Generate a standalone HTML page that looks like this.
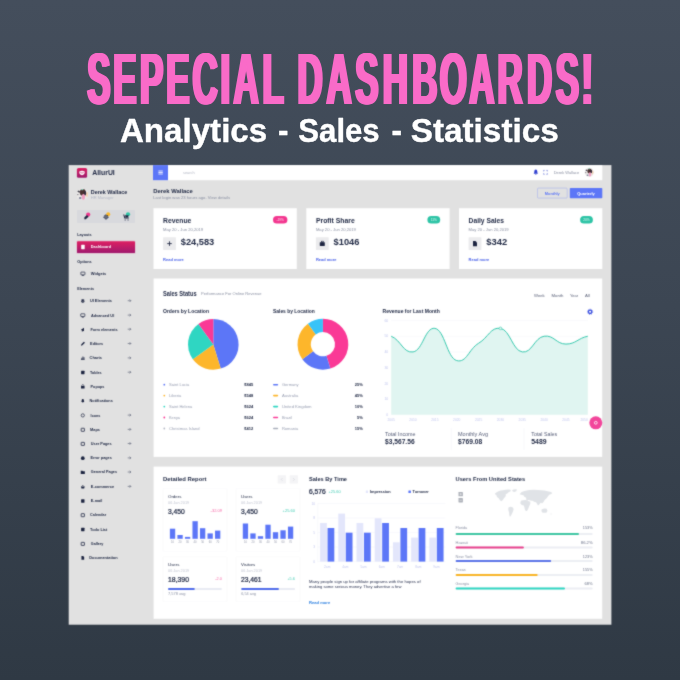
<!DOCTYPE html>
<html lang="en">
<head>
<meta charset="utf-8">
<title>Sepecial Dashboards</title>
<style>
html,body{margin:0;padding:0;}
body{width:680px;height:680px;overflow:hidden;background:#36414d;font-family:"Liberation Sans",sans-serif;}
#stage{position:relative;width:680px;height:680px;overflow:hidden;background:linear-gradient(180deg,#444e5c 0%,#3c4653 45%,#2f3944 100%);}
#dash{position:absolute;left:0;top:0;width:680px;height:680px;font-family:"Liberation Sans",sans-serif;}
#dash text{font-family:"Liberation Sans",sans-serif;}
</style>
</head>
<body>
<div id="stage">
<svg id="dash" viewBox="0 0 680 680" width="680" height="680">
<g style="filter:drop-shadow(1.55px 0 0 #f96bc8) drop-shadow(-1.55px 0 0 #f96bc8)"><text id="headline" transform="scale(0.4774,1)" x="183.59 238.08 294.19 349.10 404.12 463.03 490.43 551.12 603.27 624.45 684.97 745.23 802.87 864.44 922.11 984.15 1043.41 1104.97 1165.43 1218.88" y="103.8" font-size="73.00" font-weight="700" fill="#f96bc8">SEPECIAL DASHBOARDS!</text></g>
<text id="subtitle" y="142.30" font-size="33.96" font-weight="700" fill="#ffffff" stroke="#ffffff" stroke-width="0.4" stroke-linejoin="round"><tspan x="119.90" textLength="147.30" lengthAdjust="spacingAndGlyphs">Analytics</tspan> <tspan x="278.00" textLength="10.40" lengthAdjust="spacingAndGlyphs">-</tspan> <tspan x="298.30" textLength="81.40" lengthAdjust="spacingAndGlyphs">Sales</tspan> <tspan x="391.60" textLength="10.50" lengthAdjust="spacingAndGlyphs">-</tspan> <tspan x="410.70" textLength="148.10" lengthAdjust="spacingAndGlyphs">Statistics</tspan></text>
<filter id="soft" x="0" y="0" width="680" height="680" filterUnits="userSpaceOnUse" color-interpolation-filters="sRGB"><feConvolveMatrix order="3" kernelMatrix="1 3 1 3 18 3 1 3 1" divisor="34" edgeMode="duplicate" preserveAlpha="false"/></filter><g id="dashboard" filter="url(#soft)">
<rect x="68.70" y="165.10" width="542.70" height="459.60" fill="#e1e1e1"/>
<rect x="153.00" y="165.10" width="449.30" height="15.10" fill="#ffffff"/>
<rect x="153.00" y="165.10" width="15.00" height="15.10" fill="#5c76f7"/>
<rect x="158.40" y="170.60" width="4.40" height="0.80" fill="#ffffff"/>
<rect x="158.40" y="172.10" width="4.40" height="0.80" fill="#ffffff"/>
<rect x="158.40" y="173.60" width="4.40" height="0.80" fill="#ffffff"/>
<text x="183.00" y="173.53" font-size="4.20" fill="#b4b9c6" textLength="11.70" lengthAdjust="spacingAndGlyphs">search</text>
<defs><linearGradient id="lg" x1="0" y1="0" x2="0" y2="1"><stop offset="0" stop-color="#dc1f63"/><stop offset="1" stop-color="#9d1a6c"/></linearGradient><linearGradient id="dg" x1="0" y1="0" x2="0" y2="1"><stop offset="0" stop-color="#de1f62"/><stop offset="1" stop-color="#9f1a6e"/></linearGradient><clipPath id="av1"><circle cx="82.5" cy="194.2" r="5.9"/></clipPath><clipPath id="av2"><circle cx="589.3" cy="172.3" r="4.5"/></clipPath></defs>
<rect x="76.90" y="168.00" width="10.20" height="9.80" fill="url(#lg)" rx="1.6"/>
<path d="M79.3 171.6 q2.7 -1.6 5.4 0 q0.3 3.4 -2.7 3.6 q-3 -0.2 -2.7 -3.6z" fill="#fff"/>
<path d="M80.4 172.4 q1.6 1.5 3.2 0" stroke="#c81f6c" stroke-width="0.7" fill="none"/>
<text x="92.20" y="174.98" font-size="7.00" fill="#232c47" font-weight="700" textLength="22.60" lengthAdjust="spacingAndGlyphs">AllurUI</text>
<g clip-path="url(#av1)">
<circle cx="82.5" cy="194.2" r="6.4" fill="#ebe9e8"/>
<ellipse cx="86.90" cy="194.40" rx="1.30" ry="2.60" fill="#f3d6b8"/>
<ellipse cx="82.80" cy="192.40" rx="2.90" ry="3.30" fill="#4b3030"/>
<ellipse cx="78.70" cy="191.60" rx="1.50" ry="0.80" fill="#3b3a45" transform="rotate(25 78.70 191.60)"/>
<ellipse cx="77.90" cy="194.60" rx="0.60" ry="0.70" fill="#55525c"/>
<ellipse cx="85.20" cy="193.20" rx="0.90" ry="2.20" fill="#2f2a3f"/>
<ellipse cx="83.40" cy="197.00" rx="1.60" ry="3.00" fill="#f29fc2"/>
<ellipse cx="80.20" cy="198.10" rx="1.30" ry="1.00" fill="#7c8099"/>
<ellipse cx="82.30" cy="189.60" rx="1.40" ry="0.70" fill="#8fd8c4"/>
</g>
<text x="90.80" y="193.90" font-size="5.30" fill="#232c47" font-weight="700" textLength="36.40" lengthAdjust="spacingAndGlyphs">Derek Wallace</text>
<text x="90.80" y="199.43" font-size="4.20" fill="#b4b9c6" textLength="22.80" lengthAdjust="spacingAndGlyphs">HR Manager</text>
<rect x="77.00" y="209.90" width="58.00" height="13.20" fill="#d8d9dd" rx="0.8"/>
<circle cx="88.2" cy="214.6" r="2.1" fill="#f0368f"/>
<path d="M84.4 217.3 l2.6 -2.3 l1.6 1.7 l-2.6 2.4 q-1.2 0.6 -1.7 -0.1z" fill="#1c2440"/>
<circle cx="108.2" cy="214.3" r="2.0" fill="#fbb92c"/>
<circle cx="106" cy="217" r="1.7" fill="#1c2440"/><circle cx="106" cy="217" r="2.1" fill="none" stroke="#1c2440" stroke-width="1.0" stroke-dasharray="0.9 0.75"/><circle cx="106" cy="217" r="0.75" fill="#d8d9dd"/>
<circle cx="128.0" cy="214.3" r="2.1" fill="#2ec4a6"/>
<path d="M123.2 214.6 h1 l1 3 h3.6 v0.9 h-4.4 z M124.7 219.5 h0.9 v0.9 h-0.9z M127.6 219.5 h0.9 v0.9 h-0.9z M125 215.2 h3.6 l-0.5 2 h-2.6z" fill="#1c2440"/>
<text x="77.20" y="236.09" font-size="4.10" fill="#232c47" font-weight="700" textLength="14.40" lengthAdjust="spacingAndGlyphs">Layouts</text>
<rect x="76.20" y="240.60" width="59.60" height="13.40" fill="#e83e8c" rx="1.6" opacity="0.16"/>
<rect x="77.00" y="241.20" width="58.00" height="11.90" fill="url(#dg)" rx="0.9"/>
<rect x="81.20" y="244.80" width="3.50" height="4.40" fill="#ffffff" rx="0.4"/>
<text x="90.80" y="248.36" font-size="4.30" fill="#ffffff" font-weight="700" textLength="20.20" lengthAdjust="spacingAndGlyphs">Dashboard</text>
<text x="77.20" y="262.79" font-size="4.10" fill="#232c47" font-weight="700" textLength="14.40" lengthAdjust="spacingAndGlyphs">Options</text>
<text x="77.20" y="289.99" font-size="4.10" fill="#232c47" font-weight="700" textLength="16.80" lengthAdjust="spacingAndGlyphs">Elements</text>
<g transform="translate(82.90 273.70) scale(0.85) translate(-82.90 -273.70)">
<rect x="80.50" y="271.80" width="4.8" height="3.2" rx="0.4" fill="none" stroke="#1c2440" stroke-width="0.8"/><rect x="81.70" y="275.40" width="2.4" height="0.8" fill="#1c2440"/>
</g>
<text x="90.80" y="275.13" font-size="4.20" fill="#232c47" font-weight="700" textLength="15.40" lengthAdjust="spacingAndGlyphs">Widgets</text>
<g transform="translate(82.80 301.00) scale(0.85) translate(-82.80 -301.00)">
<ellipse cx="82.80" cy="299.90" rx="1.9" ry="1.1" fill="#1c2440"/><path d="M80.90 300.60 v1.6 q1.9 1.6 3.8 0 v-1.6 q-1.9 1.4 -3.8 0z" fill="#1c2440"/>
</g>
<text x="89.90" y="302.13" font-size="4.20" fill="#232c47" font-weight="700" textLength="22.10" lengthAdjust="spacingAndGlyphs">UI Elements</text>
<path d="M127.70 300.70 h3.2 M129.60 299.40 l1.3 1.3 l-1.3 1.3" stroke="#4a5168" stroke-width="0.55" fill="none"/>
<g transform="translate(82.80 315.40) scale(0.85) translate(-82.80 -315.40)">
<rect x="80.40" y="313.50" width="4.8" height="3.2" rx="0.4" fill="none" stroke="#1c2440" stroke-width="0.8"/><rect x="81.60" y="317.10" width="2.4" height="0.8" fill="#1c2440"/>
</g>
<text x="91.00" y="316.53" font-size="4.20" fill="#232c47" font-weight="700" textLength="23.20" lengthAdjust="spacingAndGlyphs">Advanced UI</text>
<path d="M127.70 315.10 h3.2 M129.60 313.80 l1.3 1.3 l-1.3 1.3" stroke="#4a5168" stroke-width="0.55" fill="none"/>
<g transform="translate(82.80 329.50) scale(0.85) translate(-82.80 -329.50)">
<path d="M80.60 329.70 l3.6 -2.2 v4.2 l-1.4 -0.7 l-0.4 1 l-0.9 -0.3 l0.3 -1.1z" fill="#1c2440"/>
</g>
<text x="90.40" y="330.63" font-size="4.20" fill="#232c47" font-weight="700" textLength="27.20" lengthAdjust="spacingAndGlyphs">Form elements</text>
<path d="M127.70 329.20 h3.2 M129.60 327.90 l1.3 1.3 l-1.3 1.3" stroke="#4a5168" stroke-width="0.55" fill="none"/>
<g transform="translate(82.80 343.80) scale(0.85) translate(-82.80 -343.80)">
<path d="M80.60 346.00 l0.5 -1.7 l3 -3 l1.2 1.2 l-3 3z" fill="#1c2440"/>
</g>
<text x="90.10" y="344.93" font-size="4.20" fill="#232c47" font-weight="700" textLength="13.10" lengthAdjust="spacingAndGlyphs">Editors</text>
<path d="M127.70 343.50 h3.2 M129.60 342.20 l1.3 1.3 l-1.3 1.3" stroke="#4a5168" stroke-width="0.55" fill="none"/>
<g transform="translate(82.80 358.20) scale(0.85) translate(-82.80 -358.20)">
<path d="M80.60 359.40 h4.4 v0.8 h-4.4z M81.20 357.80 h0.9 v1.3 h-0.9z M82.50 356.20 h0.9 v2.9 h-0.9z M83.80 357.20 h0.9 v1.9 h-0.9z" fill="#1c2440"/>
</g>
<text x="89.60" y="359.33" font-size="4.20" fill="#232c47" font-weight="700" textLength="12.30" lengthAdjust="spacingAndGlyphs">Charts</text>
<path d="M127.70 357.90 h3.2 M129.60 356.60 l1.3 1.3 l-1.3 1.3" stroke="#4a5168" stroke-width="0.55" fill="none"/>
<g transform="translate(82.80 372.50) scale(0.85) translate(-82.80 -372.50)">
<rect x="80.80" y="370.50" width="4" height="4" rx="0.4" fill="#1c2440"/>
</g>
<text x="90.10" y="373.63" font-size="4.20" fill="#232c47" font-weight="700" textLength="11.50" lengthAdjust="spacingAndGlyphs">Tables</text>
<path d="M127.70 372.20 h3.2 M129.60 370.90 l1.3 1.3 l-1.3 1.3" stroke="#4a5168" stroke-width="0.55" fill="none"/>
<g transform="translate(82.80 386.70) scale(0.85) translate(-82.80 -386.70)">
<rect x="80.70" y="385.90" width="4.2" height="3" rx="0.4" fill="#1c2440"/><path d="M81.60 385.90 v-0.6 q0 -1 1.2 -1 q1.2 0 1.2 1 v0.6" fill="none" stroke="#1c2440" stroke-width="0.7"/>
</g>
<text x="90.60" y="387.83" font-size="4.20" fill="#232c47" font-weight="700" textLength="13.80" lengthAdjust="spacingAndGlyphs">Popups</text>
<g transform="translate(82.80 401.00) scale(0.85) translate(-82.80 -401.00)">
<path d="M80.90 402.30 q0.6 -0.6 0.6 -2 q0 -1.6 1.3 -1.6 q1.3 0 1.3 1.6 q0 1.4 0.6 2z M82.20 402.70 h1.2 v0.6 h-1.2z" fill="#1c2440"/>
</g>
<text x="89.60" y="402.13" font-size="4.20" fill="#232c47" font-weight="700" textLength="23.20" lengthAdjust="spacingAndGlyphs">Notifications</text>
<g transform="translate(82.80 415.40) scale(0.85) translate(-82.80 -415.40)">
<circle cx="82.80" cy="415.40" r="1.9" fill="none" stroke="#1c2440" stroke-width="0.8"/>
</g>
<text x="90.60" y="416.53" font-size="4.20" fill="#232c47" font-weight="700" textLength="9.80" lengthAdjust="spacingAndGlyphs">Icons</text>
<path d="M127.70 415.10 h3.2 M129.60 413.80 l1.3 1.3 l-1.3 1.3" stroke="#4a5168" stroke-width="0.55" fill="none"/>
<g transform="translate(82.80 429.70) scale(0.85) translate(-82.80 -429.70)">
<rect x="80.90" y="428.00" width="3.8" height="3.6" rx="0.4" fill="none" stroke="#1c2440" stroke-width="0.9"/>
</g>
<text x="90.10" y="430.83" font-size="4.20" fill="#232c47" font-weight="700" textLength="9.90" lengthAdjust="spacingAndGlyphs">Maps</text>
<path d="M127.70 429.40 h3.2 M129.60 428.10 l1.3 1.3 l-1.3 1.3" stroke="#4a5168" stroke-width="0.55" fill="none"/>
<g transform="translate(82.80 443.80) scale(0.85) translate(-82.80 -443.80)">
<rect x="80.90" y="442.10" width="3.8" height="3.6" rx="0.4" fill="none" stroke="#1c2440" stroke-width="0.9"/>
</g>
<text x="90.80" y="444.93" font-size="4.20" fill="#232c47" font-weight="700" textLength="20.80" lengthAdjust="spacingAndGlyphs">User Pages</text>
<path d="M127.70 443.50 h3.2 M129.60 442.20 l1.3 1.3 l-1.3 1.3" stroke="#4a5168" stroke-width="0.55" fill="none"/>
<g transform="translate(82.80 458.20) scale(0.85) translate(-82.80 -458.20)">
<circle cx="82.80" cy="458.20" r="2.2" fill="#1c2440"/>
</g>
<text x="90.60" y="459.33" font-size="4.20" fill="#232c47" font-weight="700" textLength="21.20" lengthAdjust="spacingAndGlyphs">Error pages</text>
<path d="M127.70 457.90 h3.2 M129.60 456.60 l1.3 1.3 l-1.3 1.3" stroke="#4a5168" stroke-width="0.55" fill="none"/>
<g transform="translate(82.80 472.30) scale(0.85) translate(-82.80 -472.30)">
<path d="M80.40 470.50 h2 l0.6 0.7 h2.2 v3 h-4.8z" fill="#1c2440"/>
</g>
<text x="90.80" y="473.43" font-size="4.20" fill="#232c47" font-weight="700" textLength="26.20" lengthAdjust="spacingAndGlyphs">General Pages</text>
<path d="M127.70 472.00 h3.2 M129.60 470.70 l1.3 1.3 l-1.3 1.3" stroke="#4a5168" stroke-width="0.55" fill="none"/>
<g transform="translate(82.80 486.70) scale(0.85) translate(-82.80 -486.70)">
<path d="M80.60 486.40 h4.4 l-0.6 2.4 h-3.2z" fill="#1c2440"/><path d="M81.50 486.40 q1.3 -3 2.6 0" fill="none" stroke="#1c2440" stroke-width="0.6"/>
</g>
<text x="90.80" y="487.83" font-size="4.20" fill="#232c47" font-weight="700" textLength="23.30" lengthAdjust="spacingAndGlyphs">E-commerce</text>
<path d="M127.70 486.40 h3.2 M129.60 485.10 l1.3 1.3 l-1.3 1.3" stroke="#4a5168" stroke-width="0.55" fill="none"/>
<g transform="translate(82.80 501.00) scale(0.85) translate(-82.80 -501.00)">
<rect x="80.80" y="499.00" width="4" height="4" rx="0.4" fill="#1c2440"/>
</g>
<text x="90.80" y="502.13" font-size="4.20" fill="#232c47" font-weight="700" textLength="11.60" lengthAdjust="spacingAndGlyphs">E-mail</text>
<g transform="translate(82.80 515.10) scale(0.85) translate(-82.80 -515.10)">
<rect x="80.90" y="513.40" width="3.8" height="3.6" rx="0.4" fill="none" stroke="#1c2440" stroke-width="0.9"/>
</g>
<text x="90.10" y="516.23" font-size="4.20" fill="#232c47" font-weight="700" textLength="16.00" lengthAdjust="spacingAndGlyphs">Calendar</text>
<g transform="translate(82.80 529.50) scale(0.85) translate(-82.80 -529.50)">
<rect x="80.80" y="527.50" width="4" height="4" rx="0.4" fill="#1c2440"/>
</g>
<text x="90.10" y="530.63" font-size="4.20" fill="#232c47" font-weight="700" textLength="17.20" lengthAdjust="spacingAndGlyphs">Todo List</text>
<g transform="translate(82.80 543.80) scale(0.85) translate(-82.80 -543.80)">
<rect x="80.90" y="542.10" width="3.8" height="3.6" rx="0.4" fill="none" stroke="#1c2440" stroke-width="0.9"/>
</g>
<text x="90.80" y="544.93" font-size="4.20" fill="#232c47" font-weight="700" textLength="12.50" lengthAdjust="spacingAndGlyphs">Gallery</text>
<g transform="translate(82.80 557.90) scale(0.85) translate(-82.80 -557.90)">
<path d="M81.20 555.60 h2 l1.2 1.2 v3.4 h-3.2z" fill="#1c2440"/>
</g>
<text x="89.20" y="559.03" font-size="4.20" fill="#232c47" font-weight="700" textLength="28.40" lengthAdjust="spacingAndGlyphs">Documentation</text>
<text x="153.30" y="193.37" font-size="5.80" fill="#232c47" font-weight="700" textLength="39.50" lengthAdjust="spacingAndGlyphs">Derek Wallace</text>
<text x="153.30" y="199.26" font-size="4.00" fill="#8b91a3" textLength="76.70" lengthAdjust="spacingAndGlyphs">Last login was 23 hours ago. View details</text>
<g transform="translate(535.80 172.20) scale(1.15) translate(-535.80 -172.20)">
<path d="M533.90 173.50 q0.6 -0.6 0.6 -2 q0 -1.6 1.3 -1.6 q1.3 0 1.3 1.6 q0 1.4 0.6 2z M535.20 173.90 h1.2 v0.6 h-1.2z" fill="#2f3fd0"/>
</g>
<path d="M543.6 171.4 v-1 h1 M546.4 170.4 h1 v1 M547.4 173.3 v1 h-1 M544.6 174.3 h-1 v-1" stroke="#4a5bd0" stroke-width="0.6" fill="none"/>
<text x="553.70" y="173.63" font-size="3.90" fill="#8b91a3" textLength="25.60" lengthAdjust="spacingAndGlyphs">Derek Wallace</text>
<g clip-path="url(#av2)">
<circle cx="589.3" cy="172.3" r="5.0" fill="#ebe9e8"/>
<ellipse cx="592.66" cy="172.45" rx="0.99" ry="1.98" fill="#f3d6b8"/>
<ellipse cx="589.53" cy="170.93" rx="2.21" ry="2.52" fill="#4b3030"/>
<ellipse cx="586.40" cy="170.32" rx="1.14" ry="0.61" fill="#3b3a45" transform="rotate(25 586.40 170.32)"/>
<ellipse cx="585.79" cy="172.61" rx="0.46" ry="0.53" fill="#55525c"/>
<ellipse cx="591.36" cy="171.54" rx="0.69" ry="1.68" fill="#2f2a3f"/>
<ellipse cx="589.99" cy="174.44" rx="1.22" ry="2.29" fill="#f29fc2"/>
<ellipse cx="587.55" cy="175.27" rx="0.99" ry="0.76" fill="#7c8099"/>
<ellipse cx="589.15" cy="168.79" rx="1.07" ry="0.53" fill="#8fd8c4"/>
</g>
<rect x="537.50" y="188.10" width="29.70" height="10.00" fill="none" rx="0.9" stroke="#8d9df3" stroke-width="0.4"/>
<text x="552.30" y="194.53" font-size="3.90" fill="#5c76f7" font-weight="700" text-anchor="middle" textLength="15.00" lengthAdjust="spacingAndGlyphs">Monthly</text>
<rect x="569.80" y="187.90" width="32.50" height="10.40" fill="#5c76f7" rx="0.8"/>
<text x="586.00" y="194.53" font-size="3.90" fill="#ffffff" font-weight="700" text-anchor="middle" textLength="17.60" lengthAdjust="spacingAndGlyphs">Quarterly</text>
<rect x="153.50" y="208.20" width="143.30" height="60.80" fill="#ffffff"/>
<text x="163.10" y="223.08" font-size="7.30" fill="#232c47" font-weight="700" textLength="28.30" lengthAdjust="spacingAndGlyphs">Revenue</text>
<text x="163.10" y="230.63" font-size="3.90" fill="#8b91a3" textLength="40.00" lengthAdjust="spacingAndGlyphs">May 20 - Jun 20,2019</text>
<rect x="163.10" y="237.20" width="12.80" height="12.80" fill="#ebebed" rx="0.6"/>
<path d="M167.20 243.60 h4.6 M169.50 241.30 v4.6" stroke="#1c2440" stroke-width="0.85"/>
<text x="180.80" y="245.33" font-size="9.20" fill="#232c47" font-weight="700" textLength="33.40" lengthAdjust="spacingAndGlyphs">$24,583</text>
<text x="163.10" y="260.63" font-size="3.90" fill="#4a62e8" font-weight="700" textLength="20.60" lengthAdjust="spacingAndGlyphs">Read more</text>
<rect x="273.00" y="215.90" width="14.40" height="7.70" fill="#f3368f" rx="3.85"/>
<text x="280.20" y="220.89" font-size="3.20" fill="#ffffff" text-anchor="middle" opacity="0.85">-19%</text>
<rect x="306.30" y="208.20" width="143.30" height="60.80" fill="#ffffff"/>
<text x="315.90" y="223.08" font-size="7.30" fill="#232c47" font-weight="700" textLength="38.90" lengthAdjust="spacingAndGlyphs">Profit Share</text>
<text x="315.90" y="230.63" font-size="3.90" fill="#8b91a3" textLength="40.00" lengthAdjust="spacingAndGlyphs">May 20 - Jun 20,2019</text>
<rect x="315.90" y="237.20" width="12.80" height="12.80" fill="#ebebed" rx="0.6"/>
<rect x="319.80" y="242.20" width="5" height="3.8" rx="0.4" fill="#1c2440"/><rect x="321.30" y="241.20" width="2" height="1.2" fill="none" stroke="#1c2440" stroke-width="0.6"/>
<text x="333.60" y="245.33" font-size="9.20" fill="#232c47" font-weight="700" textLength="25.80" lengthAdjust="spacingAndGlyphs">$1046</text>
<text x="315.90" y="260.63" font-size="3.90" fill="#4a62e8" font-weight="700" textLength="20.60" lengthAdjust="spacingAndGlyphs">Read more</text>
<rect x="427.40" y="215.90" width="12.80" height="7.70" fill="#2ec4a6" rx="3.85"/>
<text x="433.80" y="220.89" font-size="3.20" fill="#ffffff" text-anchor="middle" opacity="0.85">11%</text>
<rect x="459.00" y="208.20" width="143.30" height="60.80" fill="#ffffff"/>
<text x="468.60" y="223.08" font-size="7.30" fill="#232c47" font-weight="700" textLength="35.30" lengthAdjust="spacingAndGlyphs">Daily Sales</text>
<text x="468.60" y="230.63" font-size="3.90" fill="#8b91a3" textLength="40.00" lengthAdjust="spacingAndGlyphs">May 20 - Jun 20,2019</text>
<rect x="468.60" y="237.20" width="12.80" height="12.80" fill="#ebebed" rx="0.6"/>
<path d="M473.00 241.00 h2.5 l1.5 1.5 v3.8 h-4z" fill="#1c2440"/>
<text x="486.30" y="245.33" font-size="9.20" fill="#232c47" font-weight="700" textLength="20.90" lengthAdjust="spacingAndGlyphs">$342</text>
<text x="468.60" y="260.63" font-size="3.90" fill="#4a62e8" font-weight="700" textLength="20.60" lengthAdjust="spacingAndGlyphs">Read more</text>
<rect x="580.10" y="215.90" width="12.80" height="7.70" fill="#2ec4a6" rx="3.85"/>
<text x="586.50" y="220.89" font-size="3.20" fill="#ffffff" text-anchor="middle" opacity="0.85">20%</text>
<rect x="153.60" y="278.50" width="448.60" height="178.40" fill="#ffffff"/>
<text x="163.00" y="295.84" font-size="6.30" fill="#232c47" font-weight="700" textLength="33.60" lengthAdjust="spacingAndGlyphs">Sales Status</text>
<text x="201.00" y="295.29" font-size="3.80" fill="#8b91a3" textLength="60.60" lengthAdjust="spacingAndGlyphs">Performance For Online Revenue</text>
<text x="534.00" y="297.13" font-size="3.90" fill="#5a6178" textLength="10.70" lengthAdjust="spacingAndGlyphs">Week</text>
<text x="551.50" y="297.13" font-size="3.90" fill="#5a6178" textLength="12.00" lengthAdjust="spacingAndGlyphs">Month</text>
<text x="570.00" y="297.13" font-size="3.90" fill="#5a6178" textLength="8.00" lengthAdjust="spacingAndGlyphs">Year</text>
<text x="585.00" y="297.13" font-size="3.90" fill="#5a6178" textLength="4.80" lengthAdjust="spacingAndGlyphs">All</text>
<text x="163.00" y="312.80" font-size="5.00" fill="#232c47" font-weight="700" textLength="46.00" lengthAdjust="spacingAndGlyphs">Orders by Location</text>
<text x="273.00" y="312.80" font-size="5.00" fill="#232c47" font-weight="700" textLength="41.80" lengthAdjust="spacingAndGlyphs">Sales by Location</text>
<text x="382.50" y="312.80" font-size="5.00" fill="#232c47" font-weight="700" textLength="57.30" lengthAdjust="spacingAndGlyphs">Revenue for Last Month</text>
<path d="M213.30 344.40 L213.30 319.10 A25.3 25.3 0 0 1 220.70 368.59z" fill="#5c76f7"/>
<path d="M213.30 344.40 L220.70 368.59 A25.3 25.3 0 0 1 192.83 359.27z" fill="#fdb62b"/>
<path d="M213.30 344.40 L192.83 359.27 A25.3 25.3 0 0 1 198.43 323.93z" fill="#2fd6c2"/>
<path d="M213.30 344.40 L198.43 323.93 A25.3 25.3 0 0 1 213.30 319.10z" fill="#fa3996"/>
<path d="M322.90 318.80 A25.4 25.4 0 0 1 330.33 368.49 L326.44 355.77 A12.1 12.1 0 0 0 322.90 332.10z" fill="#fa3996"/>
<path d="M330.33 368.49 A25.4 25.4 0 0 1 302.35 359.13 L313.11 351.31 A12.1 12.1 0 0 0 326.44 355.77z" fill="#5c76f7"/>
<path d="M302.35 359.13 A25.4 25.4 0 0 1 307.97 323.65 L315.79 334.41 A12.1 12.1 0 0 0 313.11 351.31z" fill="#fdb62b"/>
<path d="M307.97 323.65 A25.4 25.4 0 0 1 322.90 318.80 L322.90 332.10 A12.1 12.1 0 0 0 315.79 334.41z" fill="#38c3f8"/>
<circle cx="164.3" cy="384.70" r="0.9" fill="#5c76f7"/>
<text x="169.00" y="386.03" font-size="3.90" fill="#9aa0b3" textLength="20.20" lengthAdjust="spacingAndGlyphs">Saint Lucia</text>
<text x="244.20" y="386.06" font-size="4.00" fill="#232c47" font-weight="700" textLength="9.00" lengthAdjust="spacingAndGlyphs">$845</text>
<circle cx="164.3" cy="395.60" r="0.9" fill="#fdb62b"/>
<text x="169.00" y="396.93" font-size="3.90" fill="#9aa0b3" textLength="12.20" lengthAdjust="spacingAndGlyphs">Liberia</text>
<text x="244.20" y="396.96" font-size="4.00" fill="#232c47" font-weight="700" textLength="9.00" lengthAdjust="spacingAndGlyphs">$548</text>
<circle cx="164.3" cy="406.60" r="0.9" fill="#2fd6c2"/>
<text x="169.00" y="407.93" font-size="3.90" fill="#9aa0b3" textLength="23.30" lengthAdjust="spacingAndGlyphs">Saint Helena</text>
<text x="244.20" y="407.96" font-size="4.00" fill="#232c47" font-weight="700" textLength="9.00" lengthAdjust="spacingAndGlyphs">$624</text>
<circle cx="164.3" cy="417.50" r="0.9" fill="#fa3996"/>
<text x="169.00" y="418.83" font-size="3.90" fill="#9aa0b3" textLength="11.00" lengthAdjust="spacingAndGlyphs">Kenya</text>
<text x="244.20" y="418.86" font-size="4.00" fill="#232c47" font-weight="700" textLength="9.00" lengthAdjust="spacingAndGlyphs">$624</text>
<circle cx="164.3" cy="428.50" r="0.9" fill="#b5bac6"/>
<text x="169.00" y="429.83" font-size="3.90" fill="#9aa0b3" textLength="30.60" lengthAdjust="spacingAndGlyphs">Christmas Island</text>
<text x="244.20" y="429.86" font-size="4.00" fill="#232c47" font-weight="700" textLength="9.00" lengthAdjust="spacingAndGlyphs">$412</text>
<rect x="273.00" y="383.90" width="5.20" height="1.60" fill="#5c76f7" rx="0.8"/>
<text x="281.90" y="386.03" font-size="3.90" fill="#9aa0b3" textLength="16.70" lengthAdjust="spacingAndGlyphs">Germany</text>
<text x="362.80" y="386.06" font-size="4.00" fill="#232c47" font-weight="700" text-anchor="end">25%</text>
<rect x="273.00" y="394.80" width="5.20" height="1.60" fill="#fdb62b" rx="0.8"/>
<text x="281.90" y="396.93" font-size="3.90" fill="#9aa0b3" textLength="16.50" lengthAdjust="spacingAndGlyphs">Australia</text>
<text x="362.80" y="396.96" font-size="4.00" fill="#232c47" font-weight="700" text-anchor="end">45%</text>
<rect x="273.00" y="405.80" width="5.20" height="1.60" fill="#2fd6c2" rx="0.8"/>
<text x="281.90" y="407.93" font-size="3.90" fill="#9aa0b3" textLength="29.70" lengthAdjust="spacingAndGlyphs">United Kingdom</text>
<text x="362.80" y="407.96" font-size="4.00" fill="#232c47" font-weight="700" text-anchor="end">10%</text>
<rect x="273.00" y="416.70" width="5.20" height="1.60" fill="#fa3996" rx="0.8"/>
<text x="281.90" y="418.83" font-size="3.90" fill="#9aa0b3" textLength="10.10" lengthAdjust="spacingAndGlyphs">Brazil</text>
<text x="362.80" y="418.86" font-size="4.00" fill="#232c47" font-weight="700" text-anchor="end">5%</text>
<rect x="273.00" y="427.70" width="5.20" height="1.60" fill="#a9aebb" rx="0.8"/>
<text x="281.90" y="429.83" font-size="3.90" fill="#9aa0b3" textLength="16.30" lengthAdjust="spacingAndGlyphs">Romania</text>
<text x="362.80" y="429.86" font-size="4.00" fill="#232c47" font-weight="700" text-anchor="end">15%</text>
<text x="388.30" y="415.99" font-size="3.50" fill="#c3c8ee" text-anchor="end">0</text>
<path d="M391.2 399.08 H587.8" stroke="#eef0f6" stroke-width="0.35"/>
<text x="388.30" y="400.27" font-size="3.50" fill="#c3c8ee" text-anchor="end">10</text>
<path d="M391.2 383.37 H587.8" stroke="#eef0f6" stroke-width="0.35"/>
<text x="388.30" y="384.56" font-size="3.50" fill="#c3c8ee" text-anchor="end">20</text>
<path d="M391.2 367.65 H587.8" stroke="#eef0f6" stroke-width="0.35"/>
<text x="388.30" y="368.84" font-size="3.50" fill="#c3c8ee" text-anchor="end">30</text>
<path d="M391.2 351.93 H587.8" stroke="#eef0f6" stroke-width="0.35"/>
<text x="388.30" y="353.12" font-size="3.50" fill="#c3c8ee" text-anchor="end">40</text>
<path d="M391.2 336.22 H587.8" stroke="#eef0f6" stroke-width="0.35"/>
<text x="388.30" y="337.41" font-size="3.50" fill="#c3c8ee" text-anchor="end">50</text>
<path d="M391.2 320.50 H587.8" stroke="#eef0f6" stroke-width="0.35"/>
<text x="388.30" y="321.69" font-size="3.50" fill="#c3c8ee" text-anchor="end">60</text>
<path d="M391.20 336.22 C401.03 340.15 403.21 353.35 413.04 351.93 C422.87 350.52 425.06 326.80 434.89 328.36 C444.72 329.91 446.90 357.89 456.73 360.58 C466.56 363.27 468.75 349.09 478.58 343.29 C488.41 337.49 490.59 326.80 500.42 328.36 C510.25 329.91 512.44 350.52 522.27 351.93 C532.10 353.35 534.28 337.63 544.11 336.22 C553.94 334.80 556.13 344.07 565.96 344.07 C575.79 344.07 577.97 338.18 587.80 336.22 L587.8 414.8 L391.2 414.8z" fill="#e0f5f1"/>
<path d="M391.20 336.22 C401.03 340.15 403.21 353.35 413.04 351.93 C422.87 350.52 425.06 326.80 434.89 328.36 C444.72 329.91 446.90 357.89 456.73 360.58 C466.56 363.27 468.75 349.09 478.58 343.29 C488.41 337.49 490.59 326.80 500.42 328.36 C510.25 329.91 512.44 350.52 522.27 351.93 C532.10 353.35 534.28 337.63 544.11 336.22 C553.94 334.80 556.13 344.07 565.96 344.07 C575.79 344.07 577.97 338.18 587.80 336.22" fill="none" stroke="#37c9ae" stroke-width="1.0"/>
<circle cx="500.42" cy="328.36" r="1.35" fill="#e6f7f3" stroke="#37c9ae" stroke-width="0.6"/>
<text x="391.20" y="420.72" font-size="3.30" fill="#c3c8ee" text-anchor="middle">2005</text>
<text x="413.04" y="420.72" font-size="3.30" fill="#c3c8ee" text-anchor="middle">2010</text>
<text x="434.89" y="420.72" font-size="3.30" fill="#c3c8ee" text-anchor="middle">2015</text>
<text x="456.73" y="420.72" font-size="3.30" fill="#c3c8ee" text-anchor="middle">2020</text>
<text x="478.58" y="420.72" font-size="3.30" fill="#c3c8ee" text-anchor="middle">2025</text>
<text x="500.42" y="420.72" font-size="3.30" fill="#c3c8ee" text-anchor="middle">2030</text>
<text x="522.27" y="420.72" font-size="3.30" fill="#c3c8ee" text-anchor="middle">2035</text>
<text x="544.11" y="420.72" font-size="3.30" fill="#c3c8ee" text-anchor="middle">2040</text>
<text x="565.96" y="420.72" font-size="3.30" fill="#c3c8ee" text-anchor="middle">2045</text>
<text x="587.80" y="420.72" font-size="3.30" fill="#c3c8ee" text-anchor="end">2050</text>
<circle cx="590.1" cy="311.8" r="1.7" fill="none" stroke="#3a4fe0" stroke-width="1.3"/><circle cx="590.1" cy="311.8" r="2.6" fill="none" stroke="#3a4fe0" stroke-width="0.7" stroke-dasharray="1 1.05"/>
<circle cx="595.8" cy="422.8" r="6.5" fill="#f2469b"/><circle cx="595.8" cy="422.8" r="1.4" fill="none" stroke="#fff" stroke-width="0.8"/>
<path d="M451.2 428 V450 M524 428 V450" stroke="#eceef4" stroke-width="0.4"/>
<text x="385.00" y="435.83" font-size="4.80" fill="#59607a" textLength="30.60" lengthAdjust="spacingAndGlyphs">Total Income</text>
<text x="385.00" y="444.31" font-size="6.50" fill="#232c47" font-weight="700" textLength="29.60" lengthAdjust="spacingAndGlyphs">$3,567.56</text>
<text x="458.00" y="435.83" font-size="4.80" fill="#59607a" textLength="30.00" lengthAdjust="spacingAndGlyphs">Monthly Avg</text>
<text x="458.00" y="444.31" font-size="6.50" fill="#232c47" font-weight="700" textLength="24.20" lengthAdjust="spacingAndGlyphs">$769.08</text>
<text x="531.30" y="435.83" font-size="4.80" fill="#59607a" textLength="25.90" lengthAdjust="spacingAndGlyphs">Total Sales</text>
<text x="531.30" y="444.31" font-size="6.50" fill="#232c47" font-weight="700" textLength="15.30" lengthAdjust="spacingAndGlyphs">5489</text>
<rect x="153.60" y="466.60" width="448.60" height="152.20" fill="#ffffff"/>
<text x="163.00" y="480.87" font-size="6.10" fill="#232c47" font-weight="700" textLength="43.60" lengthAdjust="spacingAndGlyphs">Detailed Report</text>
<rect x="277.60" y="475.30" width="8.40" height="8.30" fill="#f4f4f6" rx="0.5"/>
<rect x="289.60" y="475.30" width="8.40" height="8.30" fill="#f4f4f6" rx="0.5"/>
<path d="M282.4 478.2 l-1.2 1.25 l1.2 1.25 M293.2 478.2 l1.2 1.25 l-1.2 1.25" stroke="#c4c8d2" stroke-width="0.5" fill="none"/>
<rect x="163.00" y="488.70" width="64.00" height="62.60" fill="#ffffff" rx="0.6" stroke="#f2f3f6" stroke-width="0.35"/>
<text x="168.00" y="498.13" font-size="4.20" fill="#232c47" textLength="13.40" lengthAdjust="spacingAndGlyphs">Orders</text>
<text x="168.00" y="503.92" font-size="3.60" fill="#c2c6d2" textLength="21.20" lengthAdjust="spacingAndGlyphs">06 Jan 2019</text>
<text x="168.00" y="513.75" font-size="6.90" fill="#232c47" textLength="16.80" lengthAdjust="spacingAndGlyphs" stroke="#232c47" stroke-width="0.24">3,450</text>
<text x="221.90" y="512.09" font-size="3.50" fill="#f66aa8" text-anchor="end" textLength="11.30" lengthAdjust="spacingAndGlyphs">-32.09</text>
<rect x="236.00" y="488.70" width="64.00" height="62.60" fill="#ffffff" rx="0.6" stroke="#f2f3f6" stroke-width="0.35"/>
<text x="241.00" y="498.13" font-size="4.20" fill="#232c47" textLength="11.40" lengthAdjust="spacingAndGlyphs">Users</text>
<text x="241.00" y="503.92" font-size="3.60" fill="#c2c6d2" textLength="21.20" lengthAdjust="spacingAndGlyphs">06 Jan 2019</text>
<text x="241.00" y="513.75" font-size="6.90" fill="#232c47" textLength="16.80" lengthAdjust="spacingAndGlyphs" stroke="#232c47" stroke-width="0.24">3,450</text>
<text x="294.90" y="512.09" font-size="3.50" fill="#45cdb5" text-anchor="end" textLength="12.30" lengthAdjust="spacingAndGlyphs">+25.60</text>
<rect x="163.00" y="556.90" width="64.00" height="44.70" fill="#ffffff" rx="0.6" stroke="#f2f3f6" stroke-width="0.35"/>
<text x="168.00" y="566.33" font-size="4.20" fill="#232c47" textLength="11.40" lengthAdjust="spacingAndGlyphs">Users</text>
<text x="168.00" y="572.12" font-size="3.60" fill="#c2c6d2" textLength="21.20" lengthAdjust="spacingAndGlyphs">06 Jan 2019</text>
<text x="168.00" y="581.95" font-size="6.90" fill="#232c47" textLength="21.00" lengthAdjust="spacingAndGlyphs" stroke="#232c47" stroke-width="0.24">18,390</text>
<text x="221.90" y="580.29" font-size="3.50" fill="#f66aa8" text-anchor="end" textLength="6.60" lengthAdjust="spacingAndGlyphs">-2.0</text>
<rect x="236.00" y="556.90" width="64.00" height="44.70" fill="#ffffff" rx="0.6" stroke="#f2f3f6" stroke-width="0.35"/>
<text x="241.00" y="566.33" font-size="4.20" fill="#232c47" textLength="14.20" lengthAdjust="spacingAndGlyphs">Visitors</text>
<text x="241.00" y="572.12" font-size="3.60" fill="#c2c6d2" textLength="21.20" lengthAdjust="spacingAndGlyphs">06 Jan 2019</text>
<text x="241.00" y="581.95" font-size="6.90" fill="#232c47" textLength="20.60" lengthAdjust="spacingAndGlyphs" stroke="#232c47" stroke-width="0.24">23,461</text>
<text x="294.90" y="580.29" font-size="3.50" fill="#45cdb5" text-anchor="end" textLength="7.50" lengthAdjust="spacingAndGlyphs">+5.6</text>
<rect x="169.90" y="528.70" width="5.30" height="10.10" fill="#5c76f7"/>
<text x="172.55" y="542.92" font-size="2.70" fill="#9499aa" text-anchor="middle">10</text>
<rect x="177.42" y="535.00" width="5.30" height="3.80" fill="#5c76f7"/>
<text x="180.07" y="542.92" font-size="2.70" fill="#9499aa" text-anchor="middle">20</text>
<rect x="184.94" y="536.90" width="5.30" height="1.90" fill="#5c76f7"/>
<text x="187.59" y="542.92" font-size="2.70" fill="#9499aa" text-anchor="middle">30</text>
<rect x="192.46" y="521.20" width="5.30" height="17.60" fill="#5c76f7"/>
<text x="195.11" y="542.92" font-size="2.70" fill="#9499aa" text-anchor="middle">40</text>
<rect x="199.98" y="528.20" width="5.30" height="10.60" fill="#5c76f7"/>
<text x="202.63" y="542.92" font-size="2.70" fill="#9499aa" text-anchor="middle">50</text>
<rect x="207.50" y="533.40" width="5.30" height="5.40" fill="#5c76f7"/>
<text x="210.15" y="542.92" font-size="2.70" fill="#9499aa" text-anchor="middle">60</text>
<rect x="215.02" y="530.60" width="5.30" height="8.20" fill="#5c76f7"/>
<text x="217.67" y="542.92" font-size="2.70" fill="#9499aa" text-anchor="middle">70</text>
<rect x="242.80" y="523.50" width="5.30" height="15.30" fill="#5c76f7"/>
<text x="245.45" y="542.92" font-size="2.70" fill="#9499aa" text-anchor="middle">10</text>
<rect x="250.32" y="533.40" width="5.30" height="5.40" fill="#5c76f7"/>
<text x="252.97" y="542.92" font-size="2.70" fill="#9499aa" text-anchor="middle">20</text>
<rect x="257.84" y="536.20" width="5.30" height="2.60" fill="#5c76f7"/>
<text x="260.49" y="542.92" font-size="2.70" fill="#9499aa" text-anchor="middle">30</text>
<rect x="265.36" y="524.70" width="5.30" height="14.10" fill="#5c76f7"/>
<text x="268.01" y="542.92" font-size="2.70" fill="#9499aa" text-anchor="middle">40</text>
<rect x="272.88" y="532.20" width="5.30" height="6.60" fill="#5c76f7"/>
<text x="275.53" y="542.92" font-size="2.70" fill="#9499aa" text-anchor="middle">50</text>
<rect x="280.40" y="530.30" width="5.30" height="8.50" fill="#5c76f7"/>
<text x="283.05" y="542.92" font-size="2.70" fill="#9499aa" text-anchor="middle">60</text>
<rect x="287.92" y="526.60" width="5.30" height="12.20" fill="#5c76f7"/>
<text x="290.57" y="542.92" font-size="2.70" fill="#9499aa" text-anchor="middle">70</text>
<rect x="168.00" y="588.00" width="53.90" height="1.90" fill="#e9ebf3" rx="0.95"/>
<rect x="168.00" y="588.00" width="26.79" height="1.90" fill="#4f6bea" rx="0.95"/>
<text x="168.00" y="594.89" font-size="3.50" fill="#8d93a6" textLength="17.60" lengthAdjust="spacingAndGlyphs">7,578 avg</text>
<rect x="241.20" y="588.00" width="53.90" height="1.90" fill="#e9ebf3" rx="0.95"/>
<rect x="241.20" y="588.00" width="37.73" height="1.90" fill="#4f6bea" rx="0.95"/>
<text x="241.20" y="594.89" font-size="3.50" fill="#8d93a6" textLength="14.80" lengthAdjust="spacingAndGlyphs">6,54 avg</text>
<text x="309.00" y="480.87" font-size="6.10" fill="#232c47" font-weight="700" textLength="38.00" lengthAdjust="spacingAndGlyphs">Sales By Time</text>
<text x="309.00" y="494.25" font-size="6.90" fill="#232c47" textLength="16.80" lengthAdjust="spacingAndGlyphs" stroke="#232c47" stroke-width="0.24">6,576</text>
<text x="328.40" y="492.79" font-size="3.50" fill="#45cdb5" textLength="12.20" lengthAdjust="spacingAndGlyphs">+25.60</text>
<rect x="365.80" y="490.60" width="2.30" height="2.40" fill="#e3e6fb" rx="0.3"/>
<text x="370.00" y="493.16" font-size="4.00" fill="#232c47" font-weight="700" textLength="20.70" lengthAdjust="spacingAndGlyphs">Impression</text>
<rect x="408.40" y="490.60" width="2.50" height="2.40" fill="#5c76f7" rx="0.3"/>
<text x="412.60" y="493.16" font-size="4.00" fill="#232c47" font-weight="700" textLength="16.20" lengthAdjust="spacingAndGlyphs">Turnover</text>
<path d="M317.8 503.50 H445.3" stroke="#eceef5" stroke-width="0.35"/>
<text x="315.20" y="504.62" font-size="3.30" fill="#c3c8ee" text-anchor="end">10</text>
<path d="M317.8 518.03 H445.3" stroke="#eceef5" stroke-width="0.35"/>
<text x="315.20" y="519.15" font-size="3.30" fill="#c3c8ee" text-anchor="end">8</text>
<path d="M317.8 532.56 H445.3" stroke="#eceef5" stroke-width="0.35"/>
<text x="315.20" y="533.68" font-size="3.30" fill="#c3c8ee" text-anchor="end">5</text>
<path d="M317.8 547.09 H445.3" stroke="#eceef5" stroke-width="0.35"/>
<text x="315.20" y="548.21" font-size="3.30" fill="#c3c8ee" text-anchor="end">3</text>
<path d="M317.8 561.62 H445.3" stroke="#eceef5" stroke-width="0.35"/>
<text x="315.20" y="562.74" font-size="3.30" fill="#c3c8ee" text-anchor="end">0</text>
<path d="M317.8 503.5 V561.6" stroke="#eceef5" stroke-width="0.35"/>
<rect x="320.10" y="523.00" width="6.75" height="38.60" fill="#e3e6fb"/>
<rect x="327.55" y="528.00" width="6.75" height="33.60" fill="#5c76f7"/>
<text x="327.20" y="567.59" font-size="3.20" fill="#c3c8ee" text-anchor="middle">2am</text>
<rect x="338.31" y="513.60" width="6.75" height="48.00" fill="#e3e6fb"/>
<rect x="345.76" y="532.70" width="6.75" height="28.90" fill="#5c76f7"/>
<text x="345.41" y="567.59" font-size="3.20" fill="#c3c8ee" text-anchor="middle">4am</text>
<rect x="356.52" y="523.00" width="6.75" height="38.60" fill="#e3e6fb"/>
<rect x="363.97" y="532.70" width="6.75" height="28.90" fill="#5c76f7"/>
<text x="363.62" y="567.59" font-size="3.20" fill="#c3c8ee" text-anchor="middle">5am</text>
<rect x="374.73" y="518.30" width="6.75" height="43.30" fill="#e3e6fb"/>
<rect x="382.18" y="523.00" width="6.75" height="38.60" fill="#5c76f7"/>
<text x="381.83" y="567.59" font-size="3.20" fill="#c3c8ee" text-anchor="middle">6am</text>
<rect x="392.94" y="542.30" width="6.75" height="19.30" fill="#e3e6fb"/>
<rect x="400.39" y="528.00" width="6.75" height="33.60" fill="#5c76f7"/>
<text x="400.04" y="567.59" font-size="3.20" fill="#c3c8ee" text-anchor="middle">7am</text>
<rect x="411.15" y="537.60" width="6.75" height="24.00" fill="#e3e6fb"/>
<rect x="418.60" y="528.00" width="6.75" height="33.60" fill="#5c76f7"/>
<text x="418.25" y="567.59" font-size="3.20" fill="#c3c8ee" text-anchor="middle">8am</text>
<rect x="429.36" y="537.60" width="6.75" height="24.00" fill="#e3e6fb"/>
<rect x="436.81" y="528.00" width="6.75" height="33.60" fill="#5c76f7"/>
<text x="436.46" y="567.59" font-size="3.20" fill="#c3c8ee" text-anchor="middle">9am</text>
<text x="309.00" y="582.69" font-size="4.10" fill="#2b3350" textLength="111.60" lengthAdjust="spacingAndGlyphs">Many people sign up for affiliate programs with the hopes of</text>
<text x="309.00" y="588.39" font-size="4.10" fill="#2b3350" textLength="92.40" lengthAdjust="spacingAndGlyphs">making some serious money. They advertise a few</text>
<text x="309.00" y="603.53" font-size="4.20" fill="#2a7fe0" font-weight="700" textLength="21.20" lengthAdjust="spacingAndGlyphs">Read more</text>
<text x="455.60" y="480.90" font-size="5.60" fill="#232c47" font-weight="700" textLength="69.60" lengthAdjust="spacingAndGlyphs">Users From United States</text>
<rect x="458.50" y="492.00" width="4.40" height="4.30" fill="#aeb2ba" rx="0.4"/>
<rect x="458.50" y="498.10" width="4.40" height="4.30" fill="#aeb2ba" rx="0.4"/>
<path d="M459.6 494.15 h2.2 M460.7 493.05 v2.2 M459.6 500.25 h2.2" stroke="#fff" stroke-width="0.45"/>
<g fill="#e0e3e7"><path d="M495 493.5 q3 -3 8 -3.2 q4 -1.2 7.5 -0.6 q1 1.6 -1.6 2.4 q-1.6 1.8 -3.2 2.2 q0.6 2.2 -1.6 3.6 q-1.2 2.6 -2.8 3.4 q-1.4 -0.6 -2.6 -3 q-2.2 -1 -2.4 -3.2 q-1.6 -0.4 -1.3 -1.6z"/><path d="M508.5 507.5 q2 -1.4 4 -0.2 q1.6 1.2 0.8 3.2 q-0.8 2.4 -2 4.4 q-0.6 1.6 -1.4 1.9 q-0.8 -2 -0.8 -4.6 q-1.2 -2.2 -0.6 -4.7z"/><path d="M512 490.2 q2.4 -1.6 5 -0.8 q-0.2 2 -2.6 2.6 q-2 0 -2.4 -1.8z"/><path d="M519.6 494.2 q1.6 -2.6 5 -3.2 q6 -1.6 13 -1 q7 0 13.4 2 q2 1 0.4 2 q-2.6 0.4 -3.4 2.2 q-1.2 2.6 -3.4 3.8 q-1 2.6 -2.6 3.4 q-1 -1.4 -1.8 -0.2 q-1.2 2 -2.2 2.2 q-1.2 -2.2 -2 -3.2 q-2.2 0 -3.4 -1.4 q-2.2 0.2 -3.6 -0.8 q-1.6 0.2 -3 -0.6 q0.8 -1.6 -0.6 -2.2 q-2 -0.4 -1.6 -1.6 q-1.2 -0.4 -4.2 -1.4z"/><path d="M521.4 500.6 q3 -1.2 6.2 -0.4 q1.4 1.4 2.6 1.2 q0.6 2.4 -0.8 4.4 q-1 3 -2.4 5.2 q-1.4 0.6 -2.2 -1.8 q-0.4 -2.4 -1 -3.6 q-2.6 -0.2 -3.4 -2.2 q-0.2 -1.8 1 -2.8z"/><path d="M541.6 509.6 q2.4 -1.6 5 -0.8 q1.4 1.6 0.4 3.4 q-2.4 1 -4.8 0.2 q-1.2 -1.2 -0.6 -2.8z"/><path d="M550.6 513.4 l0.9 0.2 l-0.5 1.6z"/></g>
<text x="455.60" y="529.22" font-size="3.60" fill="#8d93a6" textLength="11.60" lengthAdjust="spacingAndGlyphs">Florida</text>
<text x="592.70" y="529.22" font-size="3.60" fill="#6c7389" text-anchor="end" textLength="9.90" lengthAdjust="spacingAndGlyphs">153%</text>
<rect x="455.60" y="533.10" width="137.10" height="2.00" fill="#eceef3" rx="1"/>
<rect x="455.60" y="533.10" width="123.40" height="2.00" fill="#3ec6a2" rx="1"/>
<text x="455.60" y="543.82" font-size="3.60" fill="#8d93a6" textLength="12.00" lengthAdjust="spacingAndGlyphs">Hawaii</text>
<text x="592.70" y="543.82" font-size="3.60" fill="#6c7389" text-anchor="end" textLength="11.90" lengthAdjust="spacingAndGlyphs">86.2%</text>
<rect x="455.60" y="546.60" width="137.10" height="2.00" fill="#eceef3" rx="1"/>
<rect x="455.60" y="546.60" width="68.30" height="2.00" fill="#e8408c" rx="1"/>
<text x="455.60" y="557.62" font-size="3.60" fill="#8d93a6" textLength="17.00" lengthAdjust="spacingAndGlyphs">New York</text>
<text x="592.70" y="557.62" font-size="3.60" fill="#6c7389" text-anchor="end" textLength="9.90" lengthAdjust="spacingAndGlyphs">123%</text>
<rect x="455.60" y="560.10" width="137.10" height="2.00" fill="#eceef3" rx="1"/>
<rect x="455.60" y="560.10" width="95.60" height="2.00" fill="#5b73e8" rx="1"/>
<text x="455.60" y="570.82" font-size="3.60" fill="#8d93a6" textLength="10.20" lengthAdjust="spacingAndGlyphs">Texas</text>
<text x="592.70" y="570.82" font-size="3.60" fill="#6c7389" text-anchor="end" textLength="9.90" lengthAdjust="spacingAndGlyphs">155%</text>
<rect x="455.60" y="573.90" width="137.10" height="2.00" fill="#eceef3" rx="1"/>
<rect x="455.60" y="573.90" width="82.10" height="2.00" fill="#f8b426" rx="1"/>
<text x="455.60" y="584.72" font-size="3.60" fill="#8d93a6" textLength="13.40" lengthAdjust="spacingAndGlyphs">Georgia</text>
<text x="592.70" y="584.72" font-size="3.60" fill="#6c7389" text-anchor="end" textLength="8.10" lengthAdjust="spacingAndGlyphs">68%</text>
<rect x="455.60" y="587.40" width="137.10" height="2.00" fill="#eceef3" rx="1"/>
<rect x="455.60" y="587.40" width="109.40" height="2.00" fill="#2fd6c2" rx="1"/>
</g>
</svg>
</div>
</body>
</html>
